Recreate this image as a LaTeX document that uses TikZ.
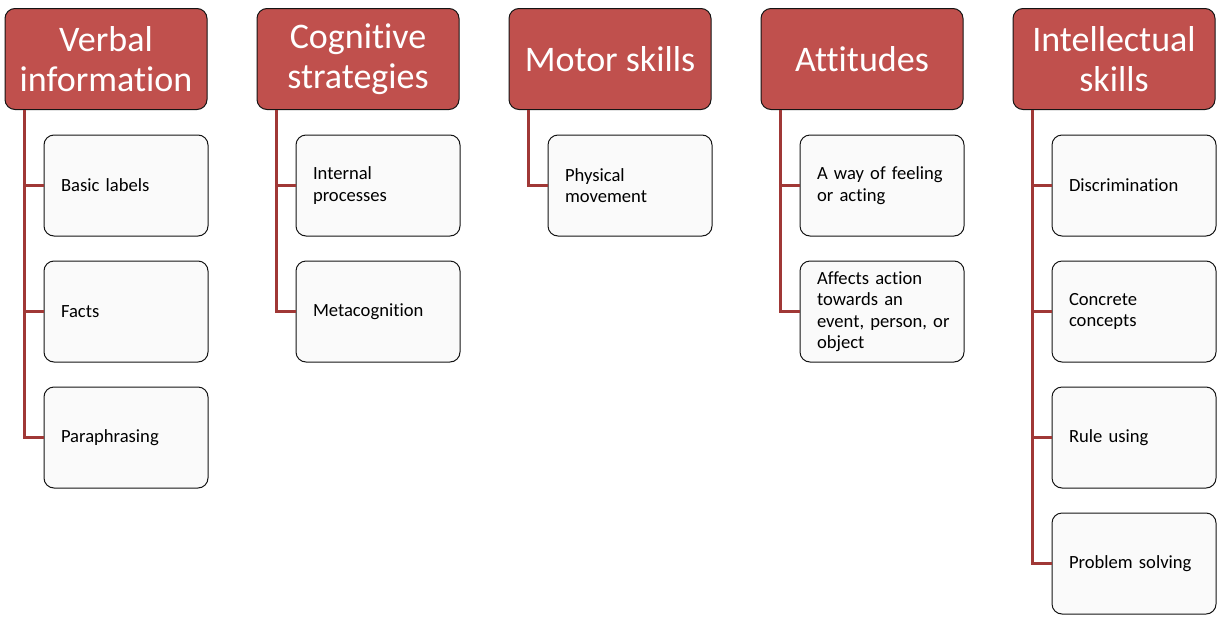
\documentclass[tikz,border=0pt]{standalone}
\usepackage{fontspec}
\setmainfont{Carlito}[Ligatures=NoCommon]
\usepackage{tikz}
\usetikzlibrary{calc}

\definecolor{hdred}{RGB}{192,80,77}
\definecolor{lnred}{RGB}{160,56,54}
\definecolor{bxedge}{RGB}{20,20,20}

\tikzset{
  header/.style={draw=bxedge, line width=1pt, fill=hdred, rounded corners=10pt,
    text=white, font=\fontsize{36}{40}\selectfont, align=center,
    minimum width=202pt, minimum height=101pt, inner sep=0pt},
  item/.style={draw=bxedge, line width=1pt, fill=white!98!black, rounded corners=10pt,
    text=black, font=\fontsize{18.6}{21.5}\selectfont, align=left,
    text width=130pt, inner xsep=17pt, inner ysep=0pt, minimum height=101pt},
  branch/.style={draw=lnred, line width=3.5pt},
}

\begin{document}
\begin{tikzpicture}[x=1pt,y=-1pt]
            \useasboundingbox (0,0) rectangle (1225,624);
            % headers
            \node[header] (verb) at (106,59) {Verbal\\information};
            \node[header] (cogn) at (358,59) {Cognitive\\strategies};
            \node[header] (motor) at (610,59) {Motor skills};
            \node[header] (att) at (862,59) {Attitudes};
            \node[header] (intel) at (1114,59) {Intellectual\\skills};
            % trunk start points
            \coordinate (verb-t) at ($(verb.south west)+(20,0)$);
            \coordinate (cogn-t) at ($(cogn.south west)+(20,0)$);
            \coordinate (motor-t) at ($(motor.south west)+(20,0)$);
            \coordinate (att-t) at ($(att.south west)+(20,0)$);
            \coordinate (intel-t) at ($(intel.south west)+(20,0)$);
            % items
            \node[item] (verb1) at (126,185.5) {Basic labels};
            \node[item] (verb2) at (126,311.5) {Facts};
            \node[item] (verb3) at (126,437.5) {Paraphrasing};
            \node[item] (cogn1) at (378,185.5) {Internal\\processes};
            \node[item] (cogn2) at (378,311.5) {Metacognition};
            \node[item] (motor1) at (630,185.5) {Physical\\movement};
            \node[item] (att1) at (882,185.5) {A way of feeling\\or acting};
            \node[item] (att2) at (882,311.5) {Affects action\\towards an\\\mbox{event, person, or}\\object};
            \node[item] (intel1) at (1134,185.5) {Discrimination};
            \node[item] (intel2) at (1134,311.5) {Concrete\\concepts};
            \node[item] (intel3) at (1134,437.5) {Rule using};
            \node[item] (intel4) at (1134,563.5) {Problem solving};
            % connectors
            \draw[branch] (verb-t) |- (verb1.west);
            \draw[branch] (verb-t) |- (verb2.west);
            \draw[branch] (verb-t) |- (verb3.west);
            \draw[branch] (cogn-t) |- (cogn1.west);
            \draw[branch] (cogn-t) |- (cogn2.west);
            \draw[branch] (motor-t) |- (motor1.west);
            \draw[branch] (att-t) |- (att1.west);
            \draw[branch] (att-t) |- (att2.west);
            \draw[branch] (intel-t) |- (intel1.west);
            \draw[branch] (intel-t) |- (intel2.west);
            \draw[branch] (intel-t) |- (intel3.west);
            \draw[branch] (intel-t) |- (intel4.west);
        \end{tikzpicture}
\end{document}
